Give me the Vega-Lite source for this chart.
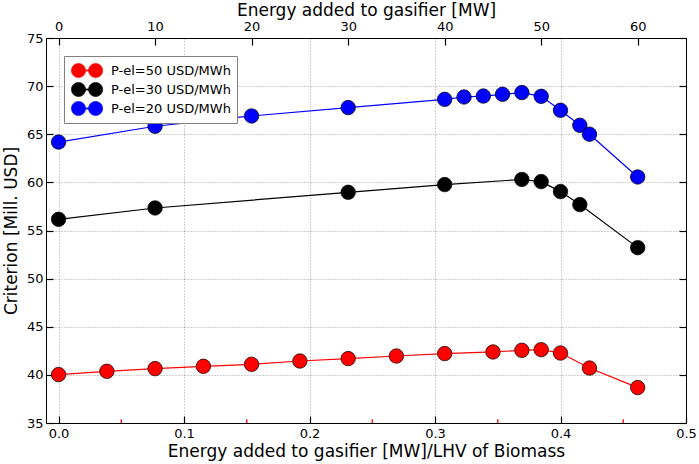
{
  "$schema": "https://vega.github.io/schema/vega-lite/v6.json",
  "autosize": {"type": "none"},
  "padding": {"left": 46, "top": 38, "right": 13, "bottom": 41},
  "width": 640,
  "height": 385,
  "background": "white",
  "datasets": {
    "runs": [
      {"series": "P-el=50 USD/MWh", "ratio": 0, "crit": 40.03},
      {"series": "P-el=50 USD/MWh", "ratio": 0.0385, "crit": 40.37},
      {"series": "P-el=50 USD/MWh", "ratio": 0.0769, "crit": 40.65},
      {"series": "P-el=50 USD/MWh", "ratio": 0.1154, "crit": 40.89},
      {"series": "P-el=50 USD/MWh", "ratio": 0.1538, "crit": 41.1},
      {"series": "P-el=50 USD/MWh", "ratio": 0.1923, "crit": 41.44},
      {"series": "P-el=50 USD/MWh", "ratio": 0.2308, "crit": 41.69},
      {"series": "P-el=50 USD/MWh", "ratio": 0.2692, "crit": 41.96},
      {"series": "P-el=50 USD/MWh", "ratio": 0.3077, "crit": 42.21},
      {"series": "P-el=50 USD/MWh", "ratio": 0.3462, "crit": 42.38},
      {"series": "P-el=50 USD/MWh", "ratio": 0.3692, "crit": 42.55},
      {"series": "P-el=50 USD/MWh", "ratio": 0.3846, "crit": 42.62},
      {"series": "P-el=50 USD/MWh", "ratio": 0.4, "crit": 42.27},
      {"series": "P-el=50 USD/MWh", "ratio": 0.4231, "crit": 40.71},
      {"series": "P-el=50 USD/MWh", "ratio": 0.4615, "crit": 38.68},
      {"series": "P-el=30 USD/MWh", "ratio": 0, "crit": 56.16},
      {"series": "P-el=30 USD/MWh", "ratio": 0.0769, "crit": 57.34},
      {"series": "P-el=30 USD/MWh", "ratio": 0.2308, "crit": 58.97},
      {"series": "P-el=30 USD/MWh", "ratio": 0.3077, "crit": 59.77},
      {"series": "P-el=30 USD/MWh", "ratio": 0.3692, "crit": 60.3},
      {"series": "P-el=30 USD/MWh", "ratio": 0.3846, "crit": 60.08},
      {"series": "P-el=30 USD/MWh", "ratio": 0.4, "crit": 59.04},
      {"series": "P-el=30 USD/MWh", "ratio": 0.4154, "crit": 57.69},
      {"series": "P-el=30 USD/MWh", "ratio": 0.4615, "crit": 53.22},
      {"series": "P-el=20 USD/MWh", "ratio": 0, "crit": 64.19},
      {"series": "P-el=20 USD/MWh", "ratio": 0.0769, "crit": 65.83},
      {"series": "P-el=20 USD/MWh", "ratio": 0.1538, "crit": 66.9},
      {"series": "P-el=20 USD/MWh", "ratio": 0.2308, "crit": 67.77},
      {"series": "P-el=20 USD/MWh", "ratio": 0.3077, "crit": 68.63},
      {"series": "P-el=20 USD/MWh", "ratio": 0.3231, "crit": 68.87},
      {"series": "P-el=20 USD/MWh", "ratio": 0.3385, "crit": 68.97},
      {"series": "P-el=20 USD/MWh", "ratio": 0.3538, "crit": 69.15},
      {"series": "P-el=20 USD/MWh", "ratio": 0.3692, "crit": 69.33},
      {"series": "P-el=20 USD/MWh", "ratio": 0.3846, "crit": 68.94},
      {"series": "P-el=20 USD/MWh", "ratio": 0.4, "crit": 67.49},
      {"series": "P-el=20 USD/MWh", "ratio": 0.4154, "crit": 65.93},
      {"series": "P-el=20 USD/MWh", "ratio": 0.4231, "crit": 65.0},
      {"series": "P-el=20 USD/MWh", "ratio": 0.4615, "crit": 60.56}
    ],
    "minor": [
      {"ratio": 0.05}, {"ratio": 0.15}, {"ratio": 0.25}, {"ratio": 0.35}, {"ratio": 0.45}
    ]
  },
  "layer": [
    {
      "data": {"name": "runs"},
      "mark": {"type": "line", "strokeWidth": 1.2},
      "encoding": {
        "x": {
          "field": "ratio", "type": "quantitative",
          "scale": {"domain": [-0.01, 0.5], "nice": false, "zero": false},
          "axis": {
            "orient": "bottom",
            "title": "Energy added to gasifier [MW]/LHV of Biomass",
            "values": [0, 0.1, 0.2, 0.3, 0.4, 0.5],
            "format": ".1f",
            "grid": true,
            "labelFlush": false,
            "labelPadding": 11.5,
            "titlePadding": 3
          }
        },
        "y": {
          "field": "crit", "type": "quantitative",
          "scale": {"domain": [35, 75], "nice": false, "zero": false},
          "axis": {
            "orient": "left",
            "title": "Criterion [Mill. USD]",
            "values": [35, 40, 45, 50, 55, 60, 65, 70, 75],
            "grid": true,
            "labelFlush": false,
            "labelPadding": 10,
            "titlePadding": 6
          }
        },
        "color": {
          "field": "series", "type": "nominal",
          "scale": {
            "domain": ["P-el=50 USD/MWh", "P-el=30 USD/MWh", "P-el=20 USD/MWh"],
            "range": ["#ff0000", "#000000", "#0000ff"]
          },
          "legend": {
            "title": null,
            "orient": "top-left",
            "padding": 6,
            "strokeColor": "#808080",
            "fillColor": "white",
            "symbolType": "M 0.9 0 C 0.9 0.497 0.497 0.9 0 0.9 C -0.497 0.9 -0.9 0.497 -0.9 0 C -0.9 -0.497 -0.497 -0.9 0 -0.9 C 0.497 -0.9 0.9 -0.497 0.9 0 Z M 3.1 0 C 3.1 0.497 2.697 0.9 2.2 0.9 C 1.703 0.9 1.3 0.497 1.3 0 C 1.3 -0.497 1.703 -0.9 2.2 -0.9 C 2.697 -0.9 3.1 -0.497 3.1 0 Z M 0.85 -0.07 L 1.35 -0.07 L 1.35 0.07 L 0.85 0.07 Z",
            "symbolSize": 242,
            "labelFontSize": 13,
            "labelOffset": 24,
            "encode": {
              "symbols": {
                "update": {
                  "fill": {"scale": "color", "field": "value"},
                  "stroke": {"value": "#000000"},
                  "strokeWidth": {"value": 0.7},
                  "opacity": {"value": 1}
                }
              }
            }
          }
        }
      }
    },
    {
      "data": {"name": "runs"},
      "mark": {"type": "point", "shape": "circle", "filled": true, "size": 210, "opacity": 1, "stroke": "#000000", "strokeWidth": 0.7},
      "encoding": {
        "x": {
          "field": "ratio", "type": "quantitative",
          "axis": {
            "orient": "top",
            "title": "Energy added to gasifier [MW]",
            "values": [0, 0.076923, 0.153846, 0.230769, 0.307692, 0.384615, 0.461538],
            "labelExpr": "format(datum.value * 130, '.0f')",
            "grid": false,
            "labelFlush": false,
            "labelPadding": 11.5,
            "titlePadding": 1
          }
        },
        "y": {
          "field": "crit", "type": "quantitative",
          "axis": {
            "orient": "right",
            "title": null,
            "labels": false,
            "values": [35, 40, 45, 50, 55, 60, 65, 70, 75],
            "grid": false
          }
        },
        "color": {"field": "series", "type": "nominal"}
      }
    },
    {
      "data": {"name": "minor"},
      "mark": {"type": "rule", "color": "#ff0000", "strokeWidth": 1.3},
      "encoding": {
        "x": {"field": "ratio", "type": "quantitative", "axis": null},
        "y": {"datum": 35, "type": "quantitative", "axis": null},
        "y2": {"datum": 35.4}
      }
    }
  ],
  "resolve": {"axis": {"x": "independent", "y": "independent"}},
  "config": {
    "view": {"stroke": null},
    "legend": {"labelFont": "DejaVu Sans", "labelColor": "#000000"},
    "axis": {
      "domain": true,
      "domainColor": "#000000",
      "domainWidth": 1,
      "labelFont": "DejaVu Sans",
      "labelFontSize": 13,
      "labelColor": "#000000",
      "titleFont": "DejaVu Sans",
      "titleFontSize": 17,
      "titleFontWeight": "normal",
      "titleColor": "#000000",
      "tickColor": "#000000",
      "tickSize": -7,
      "tickWidth": 1.2,
      "gridColor": "#888888",
      "gridDash": [1, 2],
      "gridWidth": 0.8
    }
  }
}
